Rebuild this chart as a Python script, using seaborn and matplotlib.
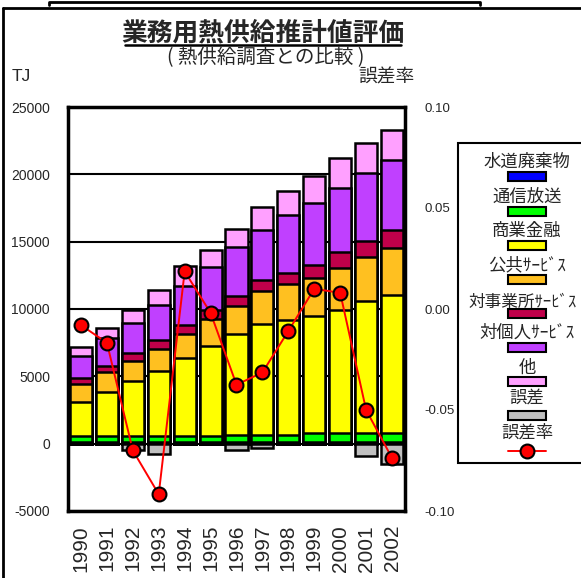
import numpy as np
import pandas as pd
import matplotlib
matplotlib.use("Agg")
import matplotlib.pyplot as plt
import seaborn as sns
from matplotlib.patches import Rectangle
from matplotlib.lines import Line2D

# ---------------- data ----------------
years = ["1990", "1991", "1992", "1993", "1994", "1995", "1996",
         "1997", "1998", "1999", "2000", "2001", "2002"]
water = [100, 100, 100, 100, 100, 100, 100, 100, 100, 100, 100, 100, 100]          # 水道廃棄物
telecom = [500, 500, 500, 500, 500, 500, 580, 580, 580, 670, 720, 720, 720]        # 通信放送
commerce = [2525, 3260, 4020, 4830, 5740, 6660, 7440, 8180, 8500, 8700, 9070, 9800, 10250]  # 商業金融
public = [1305, 1450, 1520, 1590, 1780, 1970, 2080, 2450, 2700, 2820, 3140, 3260, 3430]     # 公共サービス
business = [440, 490, 560, 690, 670, 680, 740, 810, 780, 980, 1170, 1180, 1350]           # 対事業所サービス
personal = [1620, 2010, 2290, 2620, 2940, 3240, 3680, 3780, 4290, 4610, 4820, 5070, 5220]  # 対個人サービス
other = [660, 810, 900, 1100, 1470, 1230, 1350, 1710, 1840, 2010, 2210, 2160, 2250]        # 他
error = [0, 0, -455, -770, 0, 0, -455, -330, 0, 0, 0, -900, -1480]                       # 誤差
error_rate = [-0.0080, -0.0167, -0.0700, -0.0917, 0.0186, -0.0019, -0.0375,
              -0.0314, -0.0109, 0.0100, 0.0080, -0.0500, -0.0738]                        # 誤差率

labels = ["水道廃棄物", "通信放送", "商業金融", "公共ｻｰﾋﾞｽ", "対事業所ｻｰﾋﾞｽ",
          "対個人ｻｰﾋﾞｽ", "他", "誤差", "誤差率"]
colors = ["#0000FF", "#00FF00", "#FFFF00", "#FFC020", "#C0004A",
          "#C040FF", "#FFA0FF", "#C0C0C0"]

left_ticks = [-5000, 0, 5000, 10000, 15000, 20000, 25000]
right_ticks = [-0.10, -0.05, 0.00, 0.05, 0.10]
right_tick_labels = ["-0.10", "-0.05", "0.00", "0.05", "0.10"]

# ---------------- style ----------------
sns.set_style("white")
plt.rcParams['font.family'] = ['Liberation Sans', 'Noto Sans CJK JP', 'DejaVu Sans']
JP = ['Noto Sans CJK JP', 'DejaVu Sans']

W, H = 581, 578
fig = plt.figure(figsize=(W / 100, H / 100), dpi=100)


def fx(px):
    return px / W


def fy(py):
    return 1 - py / H


ax = fig.add_axes([fx(68), fy(511), fx(405) - fx(68), fy(107) - fy(511)])

df = pd.DataFrame({"year": years, "water": water, "telecom": telecom,
                   "commerce": commerce, "public": public, "business": business,
                   "personal": personal, "other": other, "error": error})
series = ["water", "telecom", "commerce", "public", "business", "personal", "other"]
cum = df[series].cumsum(axis=1)

# draw cumulative stacks from tallest to shortest
for s, c in reversed(list(zip(series, colors[:7]))):
    sns.barplot(data=cum.assign(year=df["year"]), x="year", y=s, color=c,
                saturation=1, width=0.85, edgecolor="black", linewidth=1.8,
                ax=ax, zorder=2, errorbar=None)
sns.barplot(data=df, x="year", y="error", color=colors[7], saturation=1,
            width=0.85, edgecolor="black", linewidth=1.8, ax=ax, zorder=2,
            errorbar=None)

ax.set_ylim(-5000, 25000)
ax.set_xlim(-0.5, len(years) - 0.5)
ax.set_yticks(left_ticks)
ax.set_yticklabels([str(t) for t in left_ticks])
ax.yaxis.grid(True, color="black", lw=1.5)
ax.xaxis.grid(False)
ax.set_axisbelow(True)
ax.set_xlabel("")
ax.set_ylabel("")
ax.tick_params(axis="y", length=0, pad=13, labelsize=10)
ax.tick_params(axis="x", length=0, pad=10, labelsize=15, labelrotation=90)
for sp in ax.spines.values():
    sp.set_color("black")
    sp.set_linewidth(2.5)

ax2 = ax.twinx()
sns.lineplot(x=np.arange(len(years)), y=error_rate, ax=ax2, color="red", lw=1.4,
             marker="o", markersize=10, markerfacecolor="red",
             markeredgecolor="black", markeredgewidth=1.5, zorder=5)
ax2.set_xlim(-0.5, len(years) - 0.5)
ax2.set_ylim(-0.10, 0.10)
ax2.set_yticks(right_ticks)
ax2.set_yticklabels(right_tick_labels)
ax2.tick_params(axis="y", length=0, pad=14, labelsize=9.5)
ax2.set_ylabel("")
for sp in ax2.spines.values():
    sp.set_visible(False)

# ---------------- texts ----------------
fig.text(fx(263), fy(33), "業務用熱供給推計値評価", ha="center", va="center",
         fontsize=18.5, fontweight="bold", family=JP)
fig.add_artist(Line2D([fx(125), fx(401)], [fy(45), fy(45)], lw=1.8,
                      color="black", transform=fig.transFigure))
fig.text(fx(266), fy(58), "( 熱供給調査との比較 )", ha="center", va="center",
         fontsize=14, family=JP)
fig.text(fx(12), fy(77), "TJ", ha="left", va="center", fontsize=12.5)
fig.text(fx(358), fy(77), "誤差率", ha="left", va="center", fontsize=13.5, family=JP)

# ---------------- legend (manual) ----------------
fig.add_artist(Rectangle((fx(458), fy(463)), fx(640) - fx(458), fy(143) - fy(463),
                         transform=fig.transFigure, facecolor="white",
                         edgecolor="black", lw=1.5, zorder=1))
text_y = [162, 197, 231, 265, 302, 333, 368, 398, 433]
patch_y = [176, 211, 245, 279, 313, 347, 381, 415, 451]
text_x = [527, 527, 527, 527, 523, 527, 527, 527, 527]
text_size = [12.5, 12.5, 12.5, 12.5, 12, 12.5, 12.5, 12.5, 12.5]
cx = 527
for i, lab in enumerate(labels):
    fig.text(fx(text_x[i]), fy(text_y[i]), lab, ha="center", va="center",
             fontsize=text_size[i], family=JP, zorder=3)
    if i < 8:
        fig.add_artist(Rectangle((fx(cx - 19), fy(patch_y[i] + 4.5)), fx(38), 9 / H,
                                 transform=fig.transFigure, facecolor=colors[i],
                                 edgecolor="black", lw=1.5, zorder=3))
    else:
        fig.add_artist(Line2D([fx(cx - 19), fx(cx + 19)], [fy(patch_y[i])] * 2,
                              color="red", lw=1.4, transform=fig.transFigure, zorder=3))
        fig.add_artist(Line2D([fx(cx)], [fy(patch_y[i])], marker="o", markersize=10,
                              markerfacecolor="red", markeredgecolor="black",
                              markeredgewidth=1.5, transform=fig.transFigure, zorder=4))

# ---------------- outer frame ----------------
fig.add_artist(Line2D([fx(3), fx(3)], [fy(8), fy(580)], lw=2, color="black",
                      transform=fig.transFigure))
fig.add_artist(Line2D([fx(3), fx(585)], [fy(8), fy(8)], lw=2, color="black",
                      transform=fig.transFigure))
fig.add_artist(Line2D([fx(49), fx(49), fx(480), fx(480)], [fy(5), fy(1.5), fy(1.5), fy(5)],
                      lw=2, color="black", transform=fig.transFigure))

fig.savefig("out.png", dpi=100)
